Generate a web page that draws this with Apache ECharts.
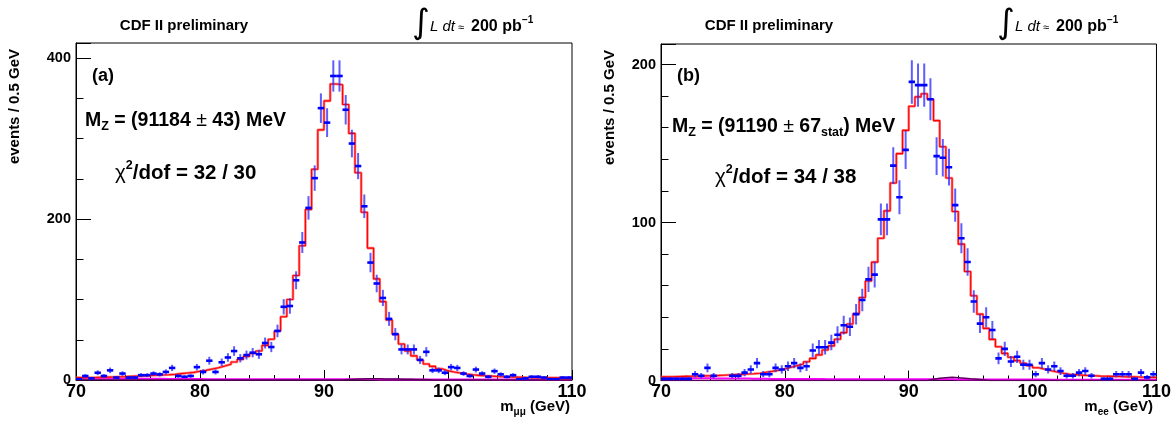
<!DOCTYPE html>
<html><head><meta charset="utf-8">
<script src="https://cdn.jsdelivr.net/npm/echarts@6/dist/echarts.min.js"></script>
<style>html,body{margin:0;padding:0;background:#fff}#c{width:1174px;height:421px}</style>
</head><body><div id="c"></div>
<script>
// ---- binning ----
const binLow = 70, binWidth = 0.5, nBins = 80;
const xTicks = [70, 80, 90, 100, 110];

// ---- panel (a): Z -> mu mu ----
const dataMuMu = [1,5,2,9,5,12,3,8,3,3, 6,6,8,7,10,15,5,4,5,16, 10,24,10,22,28,36,27,31,34,32,
  46,41,61,91,92,124,171,214,251,338, 320,378,378,336,294,266,216,146,120,102,
  76,57,38,38,38,25,35,12,12,9, 16,15,8,5,13,8,4,11,7,4, 6,1,2,4,4,3,1,1,3,3];
const fitMuMu = [3.0,3.1,3.2,3.4,3.6,3.8,4.0,4.2,4.5,4.8, 5.1,5.5,5.9,6.2,6.5,7.0,7.9,8.7,9.5,10.8,
  12,13.7,15.3,17.4,19.5,22.4,25.7,29.4,33,36, 43,50.6,61,78.7,100,130,167,212,262,311,
  347,368,367,342.6,306.6,257.7,208.5,164,125.7,97.4, 74.6,57,44.7,36,30,24.9,19.9,17,14,11.6,
  10,8.7,7.5,6.6,5.8,5.2,4.8,4.4,4.1,3.8, 3.6,3.4,3.2,3.0,2.9,2.8,2.7,2.6,2.5,2.4];
const bgMagMuMu = [2.2,2.1,2.0,2.0,1.9,1.8,1.8,1.7,1.6,1.6, 1.5,1.5,1.4,1.4,1.3,1.3,1.2,1.2,1.1,1.1,
  1.0,1.0,1.0,0.9,0.9,0.9,0.9,0.8,0.8,0.8, 0.8,0.8,0.8,0.8,0.8,0.8,0.8,0.8,0.8,0.8,
  0.8,0.8,0.8,0.8,0.8,0.8,0.8,0.8,0.7,0.7, 0.7,0.7,0.7,0.7,0.7,0.7,0.7,0.6,0.6,0.6,
  0.6,0.6,0.6,0.6,0.6,0.6,0.5,0.5,0.5,0.5, 0.5,0.5,0.5,0.5,0.5,0.5,0.5,0.5,0.5,0.5];
const bgPurMuMu = [0,0,0,0,0,0,0,0,0,0, 0,0,0,0,0,0,0,0,0,0, 0,0,0,0,0,0,0,0,0,0, 0,0,0,0,0,0,0,0,0,0,
  0,0,0,0.6,1.0,1.3,1.5,1.5,1.4,1.3, 1.2,1.1,1.0,0.8,0.6,0.5,0.3,0,0,0,
  0,0,0,0,0,0,0,0,0,0, 0,0,0,0,0,0,0,0,0,0];
const yTicksMuMu = [0, 200, 400];

// ---- panel (b): Z -> e e ----
const dataEE = [1,1,1,1,1,4,3,8,3,0, 0,3,3,5,7,11,4,4,8,7, 9,11,8,9,19,21,21,24,29,35,
  34,42,51,64,67,102,102,136,116,146, 189,187,187,178,142,141,135,111,90,75,
  50,36,40,32,14,20,12,15,10,10, 4,11,7,9,6,3,3,5,6,3, 0,1,1,4,4,4,1,5,2,4];
const fitEE = [2.3,2.4,2.5,2.6,2.7,2.8,2.9,3.0,3.1,3.3, 3.5,3.7,3.9,4.1,4.3,4.6,5.2,5.8,6.5,7.3,
  8.4,9.4,10.5,11.9,14,16.2,19.3,21.9,26.1,30.3, 35.8,42.2,52.5,63,74.9,90,107.4,125,143.6,158.3,
  173.6,179.5,181.5,178,164.5,148,128.2,107,86.3,69, 53.6,42,33,26,21.4,17.2,14.7,12.6,10.9,9.4,
  8.1,7.1,6.2,5.4,4.6,4.0,3.7,3.4,3.2,3.0, 2.8,2.7,2.6,2.5,2.4,2.3,2.2,2.1,2.0,2.0];
const bgMagEE = [1.6,1.6,1.5,1.5,1.5,1.4,1.4,1.4,1.3,1.3, 1.3,1.2,1.2,1.2,1.1,1.1,1.1,1.0,1.0,1.0,
  1.0,0.9,0.9,0.9,0.9,0.9,0.8,0.8,0.8,0.8, 0.8,0.8,0.8,0.8,0.8,0.8,0.8,0.8,0.8,0.8,
  0.8,0.8,0.8,0.8,0.8,0.8,0.8,0.7,0.7,0.7, 0.7,0.7,0.7,0.7,0.7,0.6,0.6,0.6,0.6,0.6,
  0.6,0.6,0.5,0.5,0.5,0.5,0.5,0.5,0.5,0.5, 0.5,0.5,0.5,0.5,0.5,0.5,0.5,0.5,0.5,0.5];
const bgPurEE = [0,0,0,0,0,0,0,0,0,0, 0,0,0,0,0,0,0,0,0,0, 0,0,0,0,0,0,0,0,0,0, 0,0,0,0,0,0,0,0,0,0,
  0,0,0,0.8,1.4,1.8,2.0,1.8,1.5,1.1, 0.8,0.5,0,0,0,0,0,0,0,0,
  0,0,0,0,0,0,0,0,0,0, 0,0,0,0,0,0,0,0,0,0];
const yTicksEE = [0, 100, 200];

// ---- helpers ----
const FONT = "'Liberation Sans', Arial, Helvetica, sans-serif";
function hist(vals) {
  const d = vals.map((v, i) => [binLow + i * binWidth, v]);
  d.push([binLow + nBins * binWidth, vals[vals.length - 1]]);
  return d;
}
function points(vals) {
  const out = [];
  vals.forEach((v, i) => { if (v > 0) out.push([binLow + (i + 0.5) * binWidth, v, Math.sqrt(v)]); });
  return out;
}
function renderPoint(params, api) {
  const x = api.value(0), y = api.value(1), e = api.value(2);
  const c = api.coord([x, y]), lo = api.coord([x, y - e]), hi = api.coord([x, y + e]);
  return { type: 'group', children: [
    { type: 'line', shape: { x1: c[0], y1: lo[1], x2: c[0], y2: hi[1] }, style: { stroke: 'rgba(40,40,255,0.75)', lineWidth: 2 } },
    { type: 'line', shape: { x1: c[0] - 3.2, y1: c[1], x2: c[0] + 3.2, y2: c[1] }, style: { stroke: '#0000ff', lineWidth: 2.6 } }
  ] };
}
function xAxisMain(g) {
  return { gridIndex: g, type: 'value', min: xTicks[0], max: xTicks[xTicks.length - 1], interval: 10,
    axisLine: { show: true, onZero: false, lineStyle: { color: '#000', width: 1 } },
    axisTick: { show: true, inside: true, length: 10, lineStyle: { color: '#000' } },
    minorTick: { show: true, splitNumber: 5, length: 5, lineStyle: { color: '#000' } },
    splitLine: { show: false }, minorSplitLine: { show: false },
    axisLabel: { fontSize: 18, fontWeight: 'bold', color: '#000', fontFamily: FONT, margin: 3 } };
}
function yAxisMain(g, max, ticks, interval) {
  return { gridIndex: g, type: 'value', min: 0, max: max, interval: interval, position: 'left',
    axisLine: { show: true, onZero: false, lineStyle: { color: '#000', width: 1 } },
    axisTick: { show: true, inside: true, length: 15, lineStyle: { color: '#000' } },
    splitLine: { show: false },
    axisLabel: { fontSize: 14.5, fontWeight: 'bold', color: '#000', fontFamily: FONT, margin: 5,
      formatter: v => ticks.indexOf(v) >= 0 ? String(v) : '' } };
}
function yAxisMinor(g, max, interval) {
  return { gridIndex: g, type: 'value', min: 0, max: max, interval: interval, position: 'left',
    axisLine: { show: false, onZero: false }, axisLabel: { show: false }, splitLine: { show: false },
    axisTick: { show: true, inside: true, length: 7.5, lineStyle: { color: '#000' } } };
}
function panelSeries(xi, yi, data, fit, bgMag, bgPur) {
  const base = { type: 'line', xAxisIndex: xi, yAxisIndex: yi, step: 'end', showSymbol: false, symbol: 'none', silent: true, animation: false };
  return [
    Object.assign({}, base, { data: hist(bgMag), lineStyle: { color: '#ff00ff', width: 2 }, z: 2 }),
    Object.assign({}, base, { data: hist(bgPur), lineStyle: { color: '#5a005a', width: 1.5 }, z: 2 }),
    Object.assign({}, base, { data: hist(fit), lineStyle: { color: 'rgba(255,70,70,0.7)', width: 2.6 }, z: 3 }),
    Object.assign({}, base, { data: hist(fit), lineStyle: { color: '#ff0000', width: 1.1 }, z: 4 }),
    { type: 'custom', xAxisIndex: xi, yAxisIndex: yi, data: points(data), renderItem: renderPoint, clip: true, z: 5, silent: true, animation: false }
  ];
}

// ---- text layout helpers ----
const mctx = document.createElement('canvas').getContext('2d');
function partFont(p) {
  return (p.style || 'normal') + ' ' + (p.weight || 'bold') + ' ' + p.size + 'px ' + (p.family || FONT);
}
function runWidth(parts) {
  let w = 0;
  parts.forEach(p => { mctx.font = partFont(p); w += mctx.measureText(p.t).width; });
  return w;
}
function run(x, y, parts, alignRight) {
  let cx = alignRight ? x - runWidth(parts) : x;
  const els = [];
  parts.forEach(p => {
    els.push({ type: 'text', x: cx, y: y + (p.dy || 0), silent: true,
      style: { text: p.t, fill: '#000', fontSize: p.size, fontWeight: p.weight || 'bold', fontStyle: p.style || 'normal',
        fontFamily: p.family || FONT, align: 'left', verticalAlign: 'middle' } });
    mctx.font = partFont(p);
    cx += mctx.measureText(p.t).width;
  });
  return els;
}
function txt(x, y, t, size, extra) {
  return Object.assign({ type: 'text', x: x, y: y, silent: true,
    style: Object.assign({ text: t, fill: '#000', fontSize: size, fontWeight: 'bold', fontFamily: FONT, align: 'center', verticalAlign: 'middle' }, extra || {}) });
}
function headerTexts(dx) {
  return [
    txt(184 + dx, 26, 'CDF II preliminary', 15),
    txt(421 + dx, 24, '\u222B', 34, { fontWeight: 'normal', fontFamily: "'DejaVu Sans', sans-serif" }),
    ...run(430 + dx, 27, [{ t: 'L dt', size: 15, weight: 'normal', style: 'italic' }]),
    ...run(458 + dx, 28, [{ t: '\u2248', size: 11, weight: 'normal' }]),
    ...run(471 + dx, 27, [{ t: '200 pb', size: 16 }]),
    ...run(522 + dx, 20, [{ t: '\u22121', size: 10 }])
  ];
}

const graphics = [].concat(
  headerTexts(0), headerTexts(585),
  [txt(92, 76, '(a)', 18, { align: 'left' }), txt(677, 76, '(b)', 18, { align: 'left' })],
  run(85, 121, [
    { t: 'M', size: 19.5 }, { t: 'Z', size: 12.5, dy: 6 }, { t: ' = (91184', size: 19.5 },
    { t: ' \u00B1 ', size: 19.5, weight: 'normal' }, { t: '43) MeV', size: 19.5 }]),
  run(672, 127, [
    { t: 'M', size: 19.5 }, { t: 'Z', size: 12.5, dy: 6 }, { t: ' = (91190', size: 19.5 },
    { t: ' \u00B1 ', size: 19.5, weight: 'normal' }, { t: '67', size: 19.5 }, { t: 'stat', size: 12.5, dy: 6 }, { t: ') MeV', size: 19.5 }]),
  run(115, 173, [{ t: '\u03C7', size: 20.5, weight: 'normal' }, { t: '2', size: 12.5, dy: -7 }, { t: '/dof = 32 / 30', size: 20.5 }]),
  run(715, 177, [{ t: '\u03C7', size: 20.5, weight: 'normal' }, { t: '2', size: 12.5, dy: -7 }, { t: '/dof = 34 / 38', size: 20.5 }]),
  run(570, 407, [{ t: 'm', size: 15 }, { t: '\u03BC\u03BC', size: 10, dy: 5 }, { t: ' (GeV)', size: 15 }], true),
  run(1153, 407, [{ t: 'm', size: 15 }, { t: 'ee', size: 10, dy: 5 }, { t: ' (GeV)', size: 15 }], true),
  [txt(14.5, 49, 'events / 0.5 GeV', 15, { align: 'right' }), txt(610, 50, 'events / 0.5 GeV', 15, { align: 'right' })]
);
// rotate the y titles
graphics[graphics.length - 2].rotation = Math.PI / 2;
graphics[graphics.length - 1].rotation = Math.PI / 2;

const chart = echarts.init(document.getElementById('c'), null, { renderer: 'canvas' });
chart.setOption({
  animation: false,
  backgroundColor: '#fff',
  textStyle: { fontFamily: FONT },
  grid: [
    { left: 76, top: 43, width: 496, height: 337, show: true, borderColor: '#000', borderWidth: 1, backgroundColor: 'transparent' },
    { left: 661, top: 44, width: 496, height: 336.5, show: true, borderColor: '#000', borderWidth: 1, backgroundColor: 'transparent' }
  ],
  xAxis: [xAxisMain(0), xAxisMain(1)],
  yAxis: [
    yAxisMain(0, 419, yTicksMuMu, 200), yAxisMinor(0, 419, 50),
    yAxisMain(1, 213, yTicksEE, 100), yAxisMinor(1, 213, 20)
  ],
  series: [].concat(
    panelSeries(0, 0, dataMuMu, fitMuMu, bgMagMuMu, bgPurMuMu),
    panelSeries(1, 2, dataEE, fitEE, bgMagEE, bgPurEE)
  ),
  graphic: graphics
});
</script></body></html>
